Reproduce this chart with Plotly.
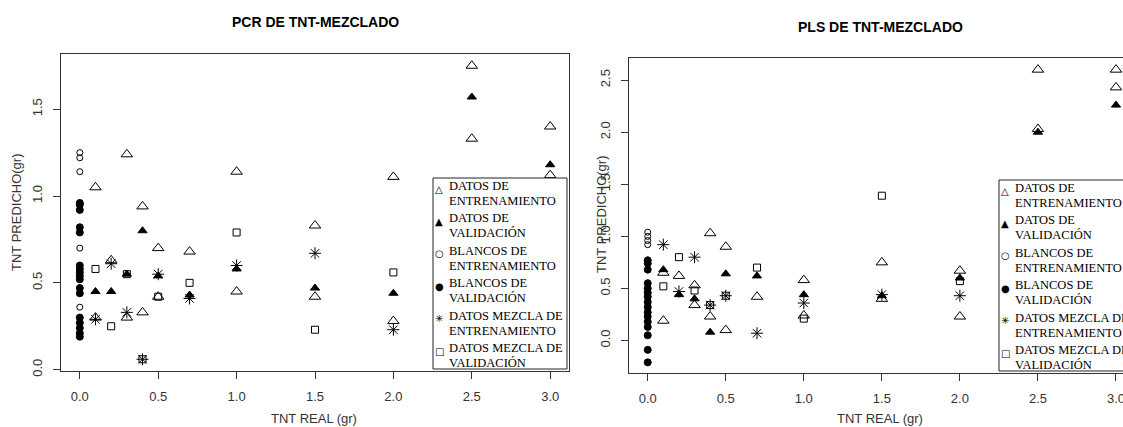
import plotly.graph_objects as go

W, H = 1123, 427

# ---------------- data ----------------
ent_x = [0.1, 0.1, 0.2, 0.3, 0.3, 0.4, 0.4, 0.5, 0.5, 0.7, 1.0, 1.0, 1.5, 1.5, 2.0, 2.0, 2.5, 2.5, 3.0, 3.0]
pcr_ent_y = [1.05, 0.30, 0.63, 1.24, 0.30, 0.94, 0.33, 0.70, 0.42, 0.68, 1.14, 0.45, 0.83, 0.42, 1.11, 0.28, 1.75, 1.33, 1.40, 1.12]
pls_ent_y = [0.65, 0.19, 0.62, 0.53, 0.34, 1.03, 0.23, 0.90, 0.10, 0.42, 0.58, 0.24, 0.75, 0.40, 0.67, 0.23, 2.60, 2.03, 2.60, 2.43]

val_x = [0.1, 0.2, 0.3, 0.4, 0.5, 0.7, 1.0, 1.5, 2.0, 2.5, 3.0]
pcr_val_y = [0.45, 0.45, 0.55, 0.80, 0.54, 0.43, 0.58, 0.47, 0.44, 1.57, 1.18]
pls_val_y = [0.68, 0.44, 0.40, 0.08, 0.64, 0.62, 0.44, 0.43, 0.60, 2.00, 2.26]

pcr_bl_ent_y = [1.25, 1.22, 1.14, 0.70, 0.36, 0.27]
pcr_bl_val_y = [0.96, 0.95, 0.92, 0.82, 0.79, 0.60, 0.58, 0.56, 0.54, 0.52, 0.47, 0.44, 0.30, 0.27, 0.24, 0.21, 0.19]
pls_bl_ent_y = [1.04, 1.00, 0.96, 0.92, 0.45, 0.33]
pls_bl_val_y = [0.77, 0.74, 0.68, 0.55, 0.50, 0.46, 0.42, 0.37, 0.32, 0.27, 0.23, 0.18, 0.13, 0.05, -0.09, -0.21]

mez_x = [0.1, 0.2, 0.3, 0.4, 0.5, 0.7, 1.0, 1.5, 2.0]
pcr_mez_ent_y = [0.29, 0.61, 0.33, 0.06, 0.55, 0.41, 0.60, 0.67, 0.23]
pcr_mez_val_y = [0.58, 0.25, 0.55, 0.06, 0.42, 0.50, 0.79, 0.23, 0.56]
pls_mez_ent_y = [0.92, 0.47, 0.80, 0.34, 0.43, 0.07, 0.36, 0.44, 0.43]
pls_mez_val_y = [0.52, 0.80, 0.48, 0.34, 0.43, 0.70, 0.21, 1.39, 0.57]

series_lines = [("DATOS DE", "ENTRENAMIENTO"), ("DATOS DE", "VALIDACIÓN"),
                ("BLANCOS DE", "ENTRENAMIENTO"), ("BLANCOS DE", "VALIDACIÓN"),
                ("DATOS MEZCLA DE", "ENTRENAMIENTO"), ("DATOS MEZCLA DE", "VALIDACIÓN")]
legend_glyphs = ["△", "▲", "○", "●", "✳", "□"]
panel_titles = ["PCR DE TNT-MEZCLADO", "PLS DE TNT-MEZCLADO"]
x_title = "TNT REAL (gr)"
y_title = "TNT PREDICHO(gr)"

# ---------------- styles ----------------
symbols = ["triangle-up-open", "triangle-up", "circle-open", "circle", "asterisk-open", "square-open"]
sizes = [10, 8, 6, 7, 10, 7]

fig = go.Figure()

panels = [
    dict(xa="x", ya="y",
         data=[(ent_x, pcr_ent_y), (val_x, pcr_val_y),
               ([0.0] * len(pcr_bl_ent_y), pcr_bl_ent_y), ([0.0] * len(pcr_bl_val_y), pcr_bl_val_y),
               (mez_x, pcr_mez_ent_y), (mez_x, pcr_mez_val_y)]),
    dict(xa="x2", ya="y2",
         data=[(ent_x, pls_ent_y), (val_x, pls_val_y),
               ([0.0] * len(pls_bl_ent_y), pls_bl_ent_y), ([0.0] * len(pls_bl_val_y), pls_bl_val_y),
               (mez_x, pls_mez_ent_y), (mez_x, pls_mez_val_y)]),
]

for p in panels:
    for i, (xs, ys) in enumerate(p["data"]):
        fig.add_trace(go.Scatter(
            x=xs, y=ys, mode="markers", name=" ".join(series_lines[i]),
            xaxis=p["xa"], yaxis=p["ya"], showlegend=False,
            marker=dict(symbol=symbols[i], size=sizes[i], color="black",
                        line=dict(color="black", width=1)),
        ))

def px_x(v):
    return v / W

def px_y(v):
    return 1 - v / H

tickfont = dict(family="Liberation Sans, Arial", size=13, color="#333")
common_x = dict(showline=True, mirror=True, linecolor="#333", linewidth=1,
                ticks="outside", ticklen=7, tickcolor="#333", tickfont=tickfont,
                showgrid=False, zeroline=False, tickformat=".1f", dtick=0.5,
                tick0=0, ticklabelstandoff=6, ticklabeloverflow="allow")
common_y = dict(showline=True, mirror=True, linecolor="#333", linewidth=1,
                ticks="outside", ticklen=7, tickcolor="#333", tickfont=tickfont,
                showgrid=False, zeroline=False, tickformat=".1f", tickangle=-90,
                ticklabelstandoff=6)

fig.update_layout(
    width=W, height=H, margin=dict(l=0, r=0, t=0, b=0, autoexpand=False),
    paper_bgcolor="white", plot_bgcolor="white", showlegend=False,
    xaxis=dict(domain=[px_x(61), px_x(569)], range=[-0.12, 3.12], anchor="y", **common_x),
    yaxis=dict(domain=[px_y(371), px_y(54)], range=[-0.0076, 1.8176], anchor="x",
               tickvals=[0, 0.5, 1.0, 1.5], **common_y),
    xaxis2=dict(domain=[px_x(629), 1.0], range=[-0.12, 3.045], anchor="y2", **common_x),
    yaxis2=dict(domain=[px_y(373), px_y(58)], range=[-0.312, 2.712], anchor="x2",
                tickvals=[0, 0.5, 1.0, 1.5, 2.0, 2.5], **common_y),
)

title_font = dict(family="Liberation Sans, Arial", size=14, color="black")
label_font = dict(family="Liberation Sans, Arial", size=13, color="#333")
ann = [
    dict(text="<b>%s</b>" % panel_titles[0], x=px_x(315), y=px_y(22), font=title_font),
    dict(text="<b>%s</b>" % panel_titles[1], x=px_x(880), y=px_y(27), font=title_font),
    dict(text=x_title, x=px_x(314), y=px_y(418), font=label_font),
    dict(text=x_title, x=px_x(880), y=px_y(418), font=label_font),
    dict(text=y_title, x=px_x(16), y=px_y(213), font=label_font, textangle=-90),
    dict(text=y_title, x=px_x(601), y=px_y(215), font=label_font, textangle=-90),
]
for a in ann:
    fig.add_annotation(xref="paper", yref="paper", showarrow=False,
                       xanchor="center", yanchor="middle", **a)

# ---------------- legends (R-style boxes) ----------------
leg_font = dict(family="Liberation Serif, Times New Roman", size=12.5, color="black")
glyph_font = dict(family="DejaVu Sans", size=10, color="black")
for (bx0, bx1, by0, by1, tx, sx) in [(433, 567, 178, 369, 447, 439),
                                     (999, 1160, 180, 371, 1013, 1005)]:
    fig.add_shape(type="rect", xref="paper", yref="paper",
                  x0=px_x(bx0), x1=px_x(bx1), y0=px_y(by1), y1=px_y(by0),
                  line=dict(color="#222", width=1), fillcolor="white", layer="above")
    for i, (l1, l2) in enumerate(series_lines):
        ytop = by0 + 8 + i * 32.4
        fig.add_annotation(xref="paper", yref="paper", showarrow=False,
                           x=px_x(tx), y=px_y(ytop), xanchor="left", yanchor="middle",
                           text=l1, font=leg_font)
        fig.add_annotation(xref="paper", yref="paper", showarrow=False,
                           x=px_x(tx), y=px_y(ytop + 15), xanchor="left", yanchor="middle",
                           text=l2, font=leg_font)
        fig.add_annotation(xref="paper", yref="paper", showarrow=False,
                           x=px_x(sx), y=px_y(ytop + 3), xanchor="center", yanchor="middle",
                           text=legend_glyphs[i], font=glyph_font)

fig.write_html("out.html")
